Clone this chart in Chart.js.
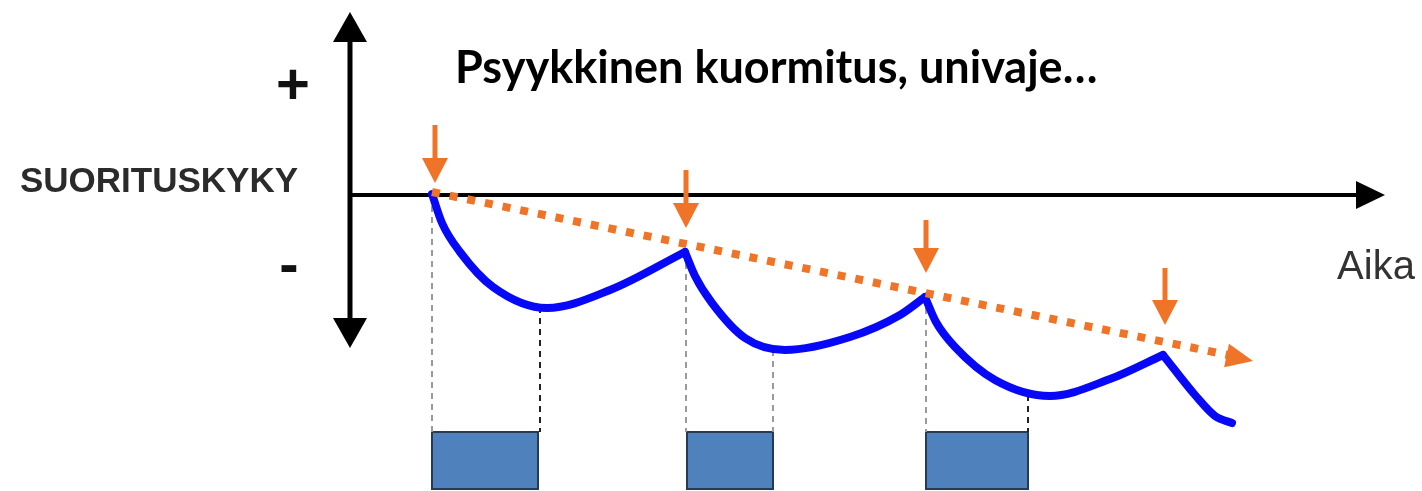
<!DOCTYPE html>
<html>
<head>
<meta charset="utf-8">
<script src="https://cdn.jsdelivr.net/npm/chart.js@4/dist/chart.umd.min.js"></script>
<style>
  body { margin: 0; background: #fff; }
  canvas { display: block; }
</style>
</head>
<body>
<canvas id="stress-chart" width="1422" height="491"></canvas>
<script>
// time (t) and performance (p) in diagram units, axes cross at t=0, p=0
var recovery1T = [0.82, 0.92, 1.10, 1.43, 1.97, 2.60, 3.35];
var recovery1P = [0.01, -0.28, -0.57, -0.92, -1.13, -0.95, -0.57];
var recovery2T = [3.35, 3.45, 3.62, 3.95, 4.35, 5.00, 5.50, 5.75];
var recovery2P = [-0.57, -0.81, -1.08, -1.43, -1.55, -1.42, -1.20, -1.02];
var recovery3T = [5.75, 5.86, 6.05, 6.45, 7.00, 7.60, 8.13];
var recovery3P = [-1.02, -1.27, -1.52, -1.85, -2.01, -1.84, -1.60];
var tailT = [8.13, 8.45, 8.65, 8.82];
var tailP = [-1.60, -2.00, -2.21, -2.28];

var trendT = [0.82, 8.78];
var trendP = [0.03, -1.60];
var trendTip = [9.03, -1.66];

var stressT = [0.85, 3.36, 5.76, 8.15];
var stressTop = [0.70, 0.25, -0.25, -0.73];
var stressTip = [0.12, -0.33, -0.78, -1.30];

var guideT = [0.82, 1.90, 3.36, 4.23, 5.76, 6.78];
var guideTop = [0, -1.12, -0.57, -1.55, -1.02, -2.00];
var guideBottom = -2.37;

var boxStart = [0.82, 3.37, 5.76];
var boxEnd = [1.88, 4.23, 6.78];
var boxTop = -2.37;
var boxBottom = -2.94;

var titleText = 'Psyykkinen kuormitus, univaje…';
var yAxisLabel = 'SUORITUSKYKY';
var xAxisLabel = 'Aika';

function zip(ts, ps){
  var out = [];
  for (var i = 0; i < ts.length; i++) out.push({x: ts[i], y: ps[i]});
  return out;
}

function curve(ts, ps){
  return {
    data: zip(ts, ps),
    borderColor: '#0808f8',
    borderWidth: 8,
    borderCapStyle: 'round',
    borderJoinStyle: 'round',
    pointRadius: 0,
    cubicInterpolationMode: 'monotone',
    order: 1
  };
}

var datasets = [];
for (var i = 0; i < guideT.length; i++) {
  datasets.push({
    data: [{x: guideT[i], y: guideTop[i]}, {x: guideT[i], y: guideBottom}],
    borderColor: (i % 2 === 1 && i !== 3) ? '#222' : '#9a9a9a',
    borderWidth: 2,
    borderDash: [6, 5],
    pointRadius: 0,
    order: 3
  });
}
datasets.push(curve(recovery1T, recovery1P));
datasets.push(curve(recovery2T, recovery2P));
datasets.push(curve(recovery3T, recovery3P));
datasets.push(curve(tailT, tailP));
datasets.push({
  data: zip(trendT, trendP),
  borderColor: '#f07428',
  borderWidth: 8,
  borderDash: [8, 10],
  pointRadius: 0,
  order: 0
});

function arrowHead(ctx, fromX, fromY, tipX, tipY, len, half, color){
  var a = Math.atan2(tipY - fromY, tipX - fromX);
  ctx.save();
  ctx.fillStyle = color;
  ctx.beginPath();
  ctx.moveTo(tipX, tipY);
  ctx.lineTo(tipX - len * Math.cos(a) + half * Math.sin(a), tipY - len * Math.sin(a) - half * Math.cos(a));
  ctx.lineTo(tipX - len * Math.cos(a) - half * Math.sin(a), tipY - len * Math.sin(a) + half * Math.cos(a));
  ctx.closePath();
  ctx.fill();
  ctx.restore();
}

var diagramPlugin = {
  id: 'diagram',
  beforeDatasetsDraw: function(chart){
    var ctx = chart.ctx, xs = chart.scales.x, ys = chart.scales.y;
    // boxes
    ctx.save();
    for (var i = 0; i < boxStart.length; i++) {
      var x0 = xs.getPixelForValue(boxStart[i]), x1 = xs.getPixelForValue(boxEnd[i]);
      var y0 = ys.getPixelForValue(boxTop), y1 = ys.getPixelForValue(boxBottom);
      ctx.fillStyle = '#4f81bd';
      ctx.fillRect(x0, y0, x1 - x0, y1 - y0);
      ctx.strokeStyle = '#243a55';
      ctx.lineWidth = 2;
      ctx.strokeRect(x0, y0, x1 - x0, y1 - y0);
    }
    // axes
    var ox = xs.getPixelForValue(0), oy = ys.getPixelForValue(0);
    var yTop = ys.getPixelForValue(1.83), yBot = ys.getPixelForValue(-1.53);
    var xEnd = xs.getPixelForValue(10.35);
    ctx.strokeStyle = '#000';
    ctx.lineWidth = 5;
    ctx.beginPath();
    ctx.moveTo(ox, yTop + 20);
    ctx.lineTo(ox, yBot - 20);
    ctx.stroke();
    ctx.lineWidth = 4;
    ctx.beginPath();
    ctx.moveTo(ox, oy);
    ctx.lineTo(xEnd - 20, oy);
    ctx.stroke();
    ctx.restore();
    arrowHead(ctx, ox, oy, ox, yTop, 30, 17, '#000');
    arrowHead(ctx, ox, oy, ox, yBot, 30, 17, '#000');
    arrowHead(ctx, ox, oy, xEnd, oy, 29, 14, '#000');
  },
  afterDatasetsDraw: function(chart){
    var ctx = chart.ctx, xs = chart.scales.x, ys = chart.scales.y;
    // trend arrowhead
    var bx = xs.getPixelForValue(trendT[0]), by = ys.getPixelForValue(trendP[0]);
    arrowHead(ctx, bx, by, xs.getPixelForValue(trendTip[0]), ys.getPixelForValue(trendTip[1]), 27, 12, '#f07428');
    // stress arrows
    for (var i = 0; i < stressT.length; i++) {
      var x = xs.getPixelForValue(stressT[i]);
      var yt = ys.getPixelForValue(stressTop[i]), yp = ys.getPixelForValue(stressTip[i]);
      ctx.save();
      ctx.strokeStyle = '#f07428';
      ctx.lineWidth = 5;
      ctx.beginPath();
      ctx.moveTo(x, yt);
      ctx.lineTo(x, yp - 20);
      ctx.stroke();
      ctx.restore();
      arrowHead(ctx, x, yt, x, yp, 25, 13, '#f07428');
    }
    // texts
    ctx.save();
    ctx.textBaseline = 'middle';
    ctx.fillStyle = '#000';
    ctx.font = 'bold 40px Lato';
    var w = ctx.measureText(titleText).width;
    var size = 40 * 643 / w;
    ctx.font = 'bold ' + size.toFixed(1) + 'px Lato';
    ctx.textAlign = 'left';
    ctx.fillText(titleText, xs.getPixelForValue(1.05), ys.getPixelForValue(1.27));

    ctx.fillStyle = '#2b2b2b';
    ctx.font = 'bold 35px "Liberation Sans", Arial, sans-serif';
    ctx.textAlign = 'right';
    ctx.fillText(yAxisLabel, xs.getPixelForValue(-0.52), ys.getPixelForValue(0.13));

    ctx.font = '40px "Liberation Sans", Arial, sans-serif';
    ctx.textAlign = 'center';
    ctx.fillStyle = '#333';
    ctx.fillText(xAxisLabel, xs.getPixelForValue(10.26), ys.getPixelForValue(-0.73));

    ctx.fillStyle = '#111';
    ctx.font = 'bold 58px "Liberation Sans", Arial, sans-serif';
    ctx.fillText('+', xs.getPixelForValue(-0.57), ys.getPixelForValue(1.07));
    ctx.fillText('-', xs.getPixelForValue(-0.61), ys.getPixelForValue(-0.73));
    ctx.restore();
  }
};

var chartConfig = {
  type: 'scatter',
  data: { datasets: datasets },
  options: {
    responsive: false,
    animation: false,
    showLine: true,
    layout: { padding: 0 },
    plugins: { legend: { display: false }, tooltip: { enabled: false } },
    scales: {
      x: { type: 'linear', display: false, min: -3.5, max: 10.72 },
      y: { type: 'linear', display: false, min: -2.96, max: 1.95 }
    }
  },
  plugins: [diagramPlugin]
};

new Chart(document.getElementById('stress-chart').getContext('2d'), chartConfig);
</script>
</body>
</html>
